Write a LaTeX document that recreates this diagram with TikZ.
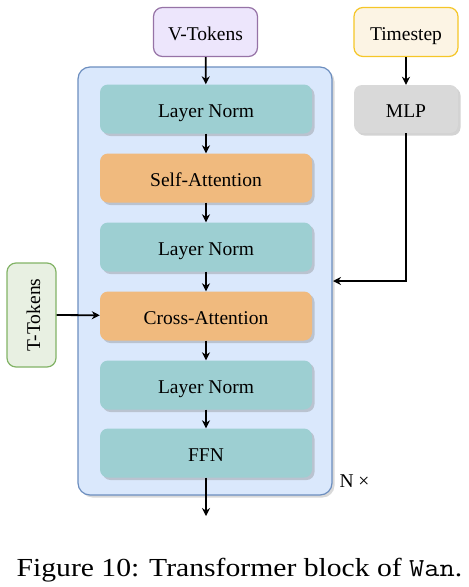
\documentclass[tikz,border=0pt]{standalone}
\usepackage{fontspec}
\setmainfont{Liberation Serif}
\usepackage{tikz}
\usetikzlibrary{positioning,arrows.meta,shadows}

\definecolor{vfill}{RGB}{237,230,252}
\definecolor{vline}{RGB}{150,115,166}
\definecolor{blkfill}{RGB}{218,232,252}
\definecolor{blkline}{RGB}{108,142,191}
\definecolor{normfill}{RGB}{157,207,210}
\definecolor{attnfill}{RGB}{240,186,126}
\definecolor{mlpfill}{RGB}{217,217,217}
\definecolor{tsfill}{RGB}{252,244,228}
\definecolor{tsline}{RGB}{245,198,40}
\definecolor{tfill}{RGB}{232,240,226}
\definecolor{tline}{RGB}{130,179,102}

\tikzset{
	boxfont/.style={font=\fontsize{19.5}{23}\selectfont,text height=17pt,text depth=0pt},
	layer/.style={boxfont,rounded corners=8pt,minimum width=212pt,minimum height=49pt,
		drop shadow={shadow xshift=2.5pt,shadow yshift=-2.5pt,opacity=0.35}},
	inbox/.style={boxfont,draw,line width=1.2pt,rounded corners=9pt,minimum width=104pt,minimum height=49pt},
	arr/.style={line width=1.8pt,-{Stealth[length=8pt,width=8pt]}}
}

\begin{document}
\begin{tikzpicture}[x=1pt,y=-1pt]
		\useasboundingbox (0,0) rectangle (469,587);

		%block
		\node (blk) [draw=blkline,fill=blkfill,line width=1.2pt,rounded corners=12pt,
			minimum width=254pt,minimum height=428pt,
			drop shadow={shadow xshift=2.5pt,shadow yshift=-2.5pt,opacity=0.3}] at (205,281) {};

		%layers
		\node (ln1) [layer,fill=normfill] at (206,109) {Layer Norm};
		\node (sa) [layer,fill=attnfill] at (206,178) {Self-Attention};
		\node (ln2) [layer,fill=normfill] at (206,247) {Layer Norm};
		\node (ca) [layer,fill=attnfill] at (206,316) {Cross-Attention};
		\node (ln3) [layer,fill=normfill] at (206,385) {Layer Norm};
		\node (ffn) [layer,fill=normfill] at (206,453) {FFN};

		%inputs
		\node (vt) [inbox,draw=vline,fill=vfill] at (205.5,32) {V-Tokens};
		\node (ts) [inbox,draw=tsline,fill=tsfill] at (406,32) {Timestep};
		\node (mlp) [layer,fill=mlpfill,minimum width=104pt,minimum height=48pt] at (406,109) {MLP};
		\node (tt) [inbox,draw=tline,fill=tfill,rotate=90] at (31.5,315) {T-Tokens};
		\coordinate (out) at (206,516);
		\coordinate (cond) at (333,281);

		%edges
		\draw[arr] (vt) -- (ln1);
		\draw[arr] (ln1) -- (sa);
		\draw[arr] (sa) -- (ln2);
		\draw[arr] (ln2) -- (ca);
		\draw[arr] (ca) -- (ln3);
		\draw[arr] (ln3) -- (ffn);
		\draw[arr] (ffn) -- (out);
		\draw[arr] (ts) -- (mlp);
		\draw[arr] (mlp) |- (cond);
		\draw[arr] (tt.south) -- (ca);

		%labels
		\node (rep) [boxfont,anchor=west] at (336,479) {N ×};
		\node (cap) [font=\fontsize{26}{30}\selectfont,xscale=1.14,anchor=base] at (239.5,576) {Figure 10: Transformer block of \texttt{Wan}.};

		\end{tikzpicture}
\end{document}
